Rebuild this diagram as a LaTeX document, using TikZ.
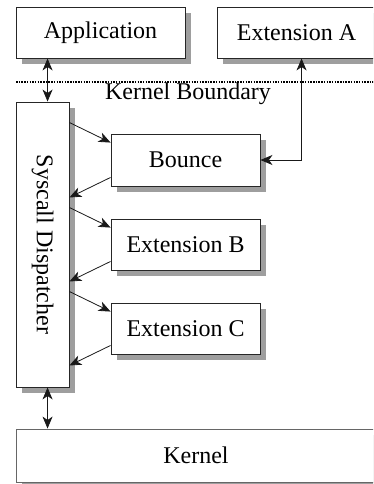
\documentclass[tikz,border=0pt]{standalone}
\usepackage{fontspec}
\setmainfont{Liberation Serif}
\usetikzlibrary{shadows,arrows.meta,calc}
\begin{document}
\begin{tikzpicture}[x=1pt,y=-1pt,
  boxnode/.style={draw=black!85,line width=0.9pt,fill=white,inner sep=0pt,
    font=\fontsize{24}{28}\selectfont,
    drop shadow={shadow xshift=6pt,shadow yshift=-6pt,fill=black!38,opacity=1}},
  conn/.style={line width=0.8pt,draw=black!90,-{Stealth[length=12pt,width=10pt,inset=3.5pt]}},
  dconn/.style={line width=0.8pt,draw=black!90,{Stealth[length=12pt,width=10pt,inset=3.5pt]}-{Stealth[length=12pt,width=10pt,inset=3.5pt]}}]
\useasboundingbox (0,0) rectangle (373,484);
\clip (0,0) rectangle (373,484);
\node[boxnode,minimum width=169pt,minimum height=51pt] (app) at (100.5,32.5) {Application};
\node[boxnode,minimum width=183pt,minimum height=51pt] (extA) at (308.5,32.5) {\makebox[159pt]{Extension A}\hspace*{24pt}};
\node[boxnode,minimum width=53pt,minimum height=285pt] (sys) at (42.5,244.5) {};
\node[rotate=-90,font=\fontsize{24}{28}\selectfont] (syslabel) at (sys.center) {Syscall Dispatcher};
\node[boxnode,minimum width=149pt,minimum height=52pt] (bounce) at (185.5,160) {Bounce};
\node[boxnode,minimum width=149pt,minimum height=51pt] (extB) at (185.5,244.5) {Extension B};
\node[boxnode,minimum width=149pt,minimum height=51pt] (extC) at (185.5,328.5) {Extension C};
\node[boxnode,draw=black!60,minimum width=380pt,minimum height=53pt] (kern) at (206,455.5) {\makebox[360pt]{Kernel}\hspace*{20pt}};
% boundary
\coordinate (kbL) at (16,82);
\coordinate (kbR) at (390,82);
\draw[line width=1.5pt,dash pattern=on 1.5pt off 1.2pt] (kbL) -- (kbR);
\node[font=\fontsize{24}{28}\selectfont] (kbtext) at (188,94) {Kernel Boundary};
% vertical double arrows
\coordinate (vx) at ($(sys.north west)+(32,0)$);
\draw[dconn] (vx |- app.south) -- (vx);
\draw[dconn] (vx |- sys.south) -- (vx |- kern.north);
% dispatcher <-> extensions
\foreach \e in {bounce,extB,extC}{
  \draw[conn] ($(sys.east |- \e.north)+(0,-11)$) -- ($(\e.north west)+(0,9)$);
  \draw[conn] ($(\e.south west)+(0,-9)$) -- ($(sys.east |- \e.south)+(0,11)$);
}
% Extension A <-> Bounce
\coordinate (ax) at ($(extA.south west)+(85,0)$);
\draw[dconn] (bounce.east) -| (ax);
\end{tikzpicture}
\end{document}
